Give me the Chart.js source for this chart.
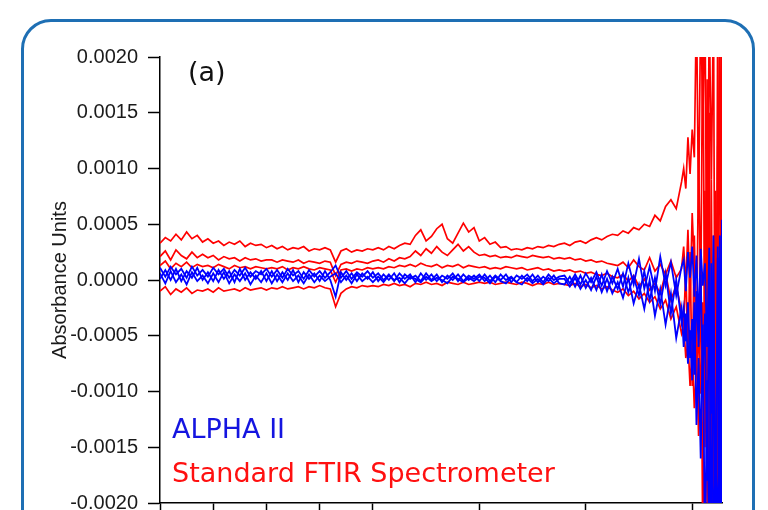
<!DOCTYPE html>
<html lang="en">
<head>
  <meta charset="UTF-8" />
  <title>ALPHA II vs Standard FTIR - baseline noise</title>
  <script src="https://cdn.jsdelivr.net/npm/chart.js"></script>
  <style>
    body {
      margin: 0;
      background: #fff;
      overflow: hidden;
    }

    .frame {
      position: absolute;
      left: 21px;
      top: 19px;
      width: 728px;
      height: 600px;
      border: 3px solid #1e6fb4;
      border-radius: 30px;
    }

    #chart {
      position: absolute;
      left: 0;
      top: 0;
    }
  </style>
</head>
<body>

  <div class="frame"></div>
  <canvas id="chart" width="768" height="510"></canvas>

<script>
// wavenumbers (cm-1), shared by every spectrum
const wavenumbers = [
  4000, 3950, 3900, 3850, 3800, 3750, 3700, 3650, 3600, 3550, 3500, 3450, 3400, 3350,
  3300, 3250, 3200, 3150, 3100, 3050, 3000, 2950, 2900, 2850, 2800, 2750, 2700, 2650,
  2600, 2550, 2500, 2450, 2400, 2350, 2300, 2250, 2200, 2150, 2100, 2050, 2000,
  1975, 1950, 1925, 1900, 1875, 1850, 1825, 1800, 1775, 1750, 1725, 1700, 1675, 1650,
  1625, 1600, 1575, 1550, 1525, 1500, 1475, 1450, 1425, 1400, 1375, 1350, 1325, 1300,
  1275, 1250, 1225, 1200, 1175, 1150, 1125, 1100, 1075, 1050, 1025, 1000, 975, 950,
  925, 900, 875, 850, 825, 800, 775, 750, 725, 700, 675, 650, 625, 600, 575, 550,
  540, 530, 520, 510, 500, 490, 480, 470, 460, 450, 440, 430, 420, 410, 400, 390, 380, 370, 360
];

// absorbance values, in units of 1e-5 AU
const UNIT = 1e-5;

const standard1 = [
  33, 38, 35, 41, 36, 43, 37, 40, 34,
  37, 33, 35, 31, 34, 32, 35, 30, 33, 31, 32, 29,
  31, 28, 30, 27, 29, 28, 30, 26, 28, 27, 29, 27,
  16,
  26, 28, 25, 27, 26, 28, 27,
  29, 27, 30, 28, 31, 33,
  32, 40, 45, 35, 39, 46, 50, 37, 33, 42, 51, 43, 47, 35,
  38, 32, 34, 29, 30, 27,
  28, 27, 29, 28, 30, 29, 31, 30, 32,
  33, 31, 34, 35, 33, 36, 38, 36, 39, 41,
  40, 44, 42, 47, 45, 50, 48,
  58, 53, 66, 72, 64, 88,
  100, 82, 128, 95, 135, 110, 250, 60, 250, 140, 250, -60, 250, 90, 250, -250, 250, -250, 250
];

const standard2 = [
  21, 26, 18, 27, 22, 19, 25, 20, 23,
  20, 22, 18, 21, 19, 20, 17, 20, 18, 19, 17, 18,
  18, 16, 18, 17, 16, 18, 15, 17, 16, 15, 17, 16,
  4,
  14, 16, 15, 17, 16, 15, 17,
  18, 16, 19, 17, 20, 19,
  21, 26, 22, 28, 24, 30, 25, 22, 27, 32, 26, 30, 25, 22,
  23, 21, 22, 20, 21, 20, 22, 21, 20, 22, 21, 20, 21, 19, 20,
  19, 20, 18, 19, 17, 18, 16, 17, 15, 14,
  13, 16, 11, 18, 12, 9, 20, 8, 14, 5, 17, 2, 10,
  30, -5, 45, -20, 60, 10, -80, 120, -30, 250, -120, 180, -250, 90, -250, 60, -200, 250, -250
];

const standard3 = [
  13, 17, 10, 15, 12, 16, 11, 14, 12,
  13, 11, 14, 12, 10, 13, 11, 12, 10, 12, 11, 10,
  11, 10, 12, 9, 11, 10, 12, 10, 9, 11, 10, 9,
  -2,
  9, 10, 8, 10, 9, 11, 10,
  11, 10, 12, 11, 13, 12, 14, 12, 15, 13, 12, 14, 11, 13, 12, 14, 11, 13, 12, 11,
  12, 10, 11, 10, 12, 11, 10, 11, 9, 10, 11, 9, 10, 8, 9,
  8, 9, 7, 8, 6, 7, 5, 4, 6, 3,
  2, 5, -1, 4, -6, 1, -9, -3, -12, 6, -18, -5, -28,
  -40, 10, -70, 25, -95, 40, -60, -140, 30, -250, 80, -200, 150, -250, 40, -250, 120, -180, 20
];

const standard4 = [
  -10, -6, -13, -8, -11, -7, -12, -9, -10,
  -8, -11, -7, -10, -9, -8, -10, -7, -9, -8, -7, -9,
  -7, -8, -6, -8, -7, -6, -8, -6, -7, -5, -7, -8,
  -24,
  -12, -8, -6, -7, -5, -6, -5,
  -6, -4, -5, -3, -5, -4, -6, -3, -4, -2, -4, -3, -5, -2, -3, -4, -2, -4, -3, -2,
  -3, -2, -4, -3, -2, -3, -4, -2, -3, -5, -3, -4, -2, -4, -3,
  -4, -5, -3, -6, -4, -7, -5, -8, -6, -9,
  -11, -8, -14, -10, -17, -12, -20, -15, -26, -18, -35, -24, -48,
  -40, -70, -55, -95, -60, -115, -80, -50, -102, -20, -150, 30, -250, -60, -250, 80, -250, -100, -250
];

const alpha1 = [
  11, 3, 12, 5, 10, 2, 12, 4, 9, 3, 11, 5, 10, 2, 9, 4, 11, 3, 8, 5, 10,
  3, 9, 2, 10, 4, 8, 1, 9, 3, 8, 2, 7,
  13,
  2, 8, 1, 7, 3, 8, 2,
  6, 0, 5, -1, 6, 1, 5, -2, 6, 0, 5, -1, 4, 1, 6, -1, 5, 0, 4, -1,
  5, -1, 4, 0, 5, -2, 4, 1, 5, -1, 4, -2, 5, 0, 3,
  4, -3, 5, -4, 6, -2, 7, -5, 8, -3,
  10, -6, 15, -4, 19, -8, 12, -10, 21, -5, 16, -14, 12,
  18, -10, 25, 2, 30, -15, 22, -40, 28, -5, 15, -60, 29, -120, 40, -250, 20, -250, 54
];

const alpha2 = [
  1, 9, 0, 10, -1, 8, 2, 11, 0, 7, -1, 9, 1, 8, -2, 10, 0, 7, 1, 8, -1,
  8, -1, 7, 0, 9, -2, 7, 1, 6, -1, 8, 0,
  -15,
  7, 0, 6, -1, 6, 1, 7,
  -1, 5, 0, 6, -2, 5, 1, 4, -1, 6, 0, 5, -2, 4, 0, 5, -1, 4, 1, 5,
  -1, 4, -2, 5, 0, 3, -2, 4, -1, 5, -2, 3, -1, 4, -3,
  -4, 3, -6, 4, -7, 2, -9, 5, -10, 3,
  -8, 6, -11, 3, -14, 8, -18, 2, -22, 6, -30, 0, -38,
  -25, -55, -20, -70, -35, -85, -10, -60, 5, -90, -30, -180, 10, -250, -40, -250, 30, -250, -120
];

const alpha3 = [
  6, -3, 8, -2, 5, -4, 7, -1, 4, -3, 6, -2, 7, -3, 5, -1, 6, -4, 4, -2, 6,
  -3, 5, -2, 6, -1, 4, -3, 5, -2, 4, -1, 3,
  6,
  -2, 4, -3, 5, -1, 3, -2,
  3, -2, 4, 0, 2, -3, 3, 1, -2, 3, -1, 2, 0, -3, 3, 1, -2, 2, -1, 3,
  2, -3, 3, -1, -3, 2, -2, -4, 2, -3, 1, -4, 2, -3, 1,
  1, -6, 2, -8, 0, -9, 3, -11, 1, -12,
  -2, -16, 2, -21, -4, -26, 0, -32, -8, -40, -12, -52, -25,
  -60, -30, -75, -45, -90, -20, -130, -70, -160, -40, -250, -90, -250, 15, -250, -150, -250, 40, -250
];

const xTicks = [4000, 3500, 3000, 2500, 2000, 1500, 1000, 500];

// x axis of an FTIR plot: 4000-2000 cm-1 at one scale, below 2000 stretched x2
class WavenumberScale extends Chart.LinearScale {
  toUnits(v) {
    return v >= 2000 ? (4000 - v) / 500 : 4 + (2000 - v) / 250;
  }
  fromUnits(u) {
    return u <= 4 ? 4000 - u * 500 : 2000 - (u - 4) * 250;
  }
  getPixelForValue(v) {
    const u0 = this.toUnits(this.max), u1 = this.toUnits(this.min);
    return this.left + this.width * (this.toUnits(v) - u0) / (u1 - u0);
  }
  getValueForPixel(px) {
    const u0 = this.toUnits(this.max), u1 = this.toUnits(this.min);
    return this.fromUnits(u0 + (px - this.left) / this.width * (u1 - u0));
  }
}
WavenumberScale.id = 'wavenumber';
WavenumberScale.defaults = {};
Chart.register(WavenumberScale);

const toPoints = vals => vals.map((v, i) => ({ x: wavenumbers[i], y: v * UNIT }));

const spectrum = (vals, color, width) => ({
  data: toPoints(vals),
  borderColor: color,
  borderWidth: width,
  pointRadius: 0,
  tension: 0,
  fill: false
});

// labels drawn inside the plot
const notes = {
  id: 'notes',
  afterDatasetsDraw(chart) {
    const ctx = chart.ctx;
    const a = chart.chartArea;
    ctx.save();
    ctx.font = '27px "DejaVu Sans"';
    ctx.textBaseline = 'alphabetic';
    ctx.fillStyle = '#111';
    ctx.fillText('(a)', a.left + 28, a.top + 24);
    ctx.fillStyle = '#1515e0';
    ctx.fillText('ALPHA II', a.left + 12, 438);
    ctx.fillStyle = '#ff1010';
    ctx.fillText('Standard FTIR Spectrometer', a.left + 12, 482);
    ctx.restore();
  }
};

new Chart(document.getElementById('chart'), {
  type: 'line',
  data: {
    datasets: [
      spectrum(alpha1, '#0000ff', 1.8),
      spectrum(alpha2, '#0000ff', 1.8),
      spectrum(alpha3, '#0000ff', 1.8),
      spectrum(standard1, '#ff0000', 1.7),
      spectrum(standard2, '#ff0000', 1.7),
      spectrum(standard3, '#ff0000', 1.7),
      spectrum(standard4, '#ff0000', 1.7)
    ]
  },
  options: {
    responsive: false,
    animation: false,
    layout: { padding: { left: 0, top: 57, right: 46, bottom: 0 } },
    plugins: {
      legend: { display: false },
      tooltip: { enabled: false }
    },
    scales: {
      x: {
        type: 'wavenumber',
        min: 360,
        max: 4000,
        afterBuildTicks: s => { s.ticks = xTicks.map(v => ({ value: v })); },
        afterFit: s => { s.height = 7; },
        ticks: { display: false },
        grid: {
          drawOnChartArea: false,
          drawTicks: true,
          tickLength: 7,
          tickWidth: 1.5,
          tickColor: '#000',
          color: '#000'
        },
        border: { color: '#000', width: 1.5 }
      },
      y: {
        min: -0.002,
        max: 0.002,
        afterBuildTicks: s => {
          const t = [];
          for (let k = -4; k <= 4; k++) t.push({ value: k * 0.0005 });
          s.ticks = t;
        },
        afterFit: s => { s.width = 160; s.paddingTop = 0; s.paddingBottom = 0; },
        ticks: {
          padding: 10,
          color: '#1a1a1a',
          font: { family: '"Liberation Sans", Arial, sans-serif', size: 20 },
          callback: v => Math.abs(v) < 1e-9 ? '0.0000' : v.toFixed(4)
        },
        grid: {
          drawOnChartArea: false,
          drawTicks: true,
          tickLength: 12,
          tickWidth: 1.5,
          tickColor: '#000',
          color: '#000'
        },
        border: { color: '#000', width: 1.5 },
        title: {
          display: true,
          text: 'Absorbance Units',
          color: '#1a1a1a',
          font: { family: '"Liberation Sans", Arial, sans-serif', size: 20 },
          padding: { top: 48, bottom: 0 }
        }
      }
    }
  },
  plugins: [notes]
});
</script>
</body>
</html>
